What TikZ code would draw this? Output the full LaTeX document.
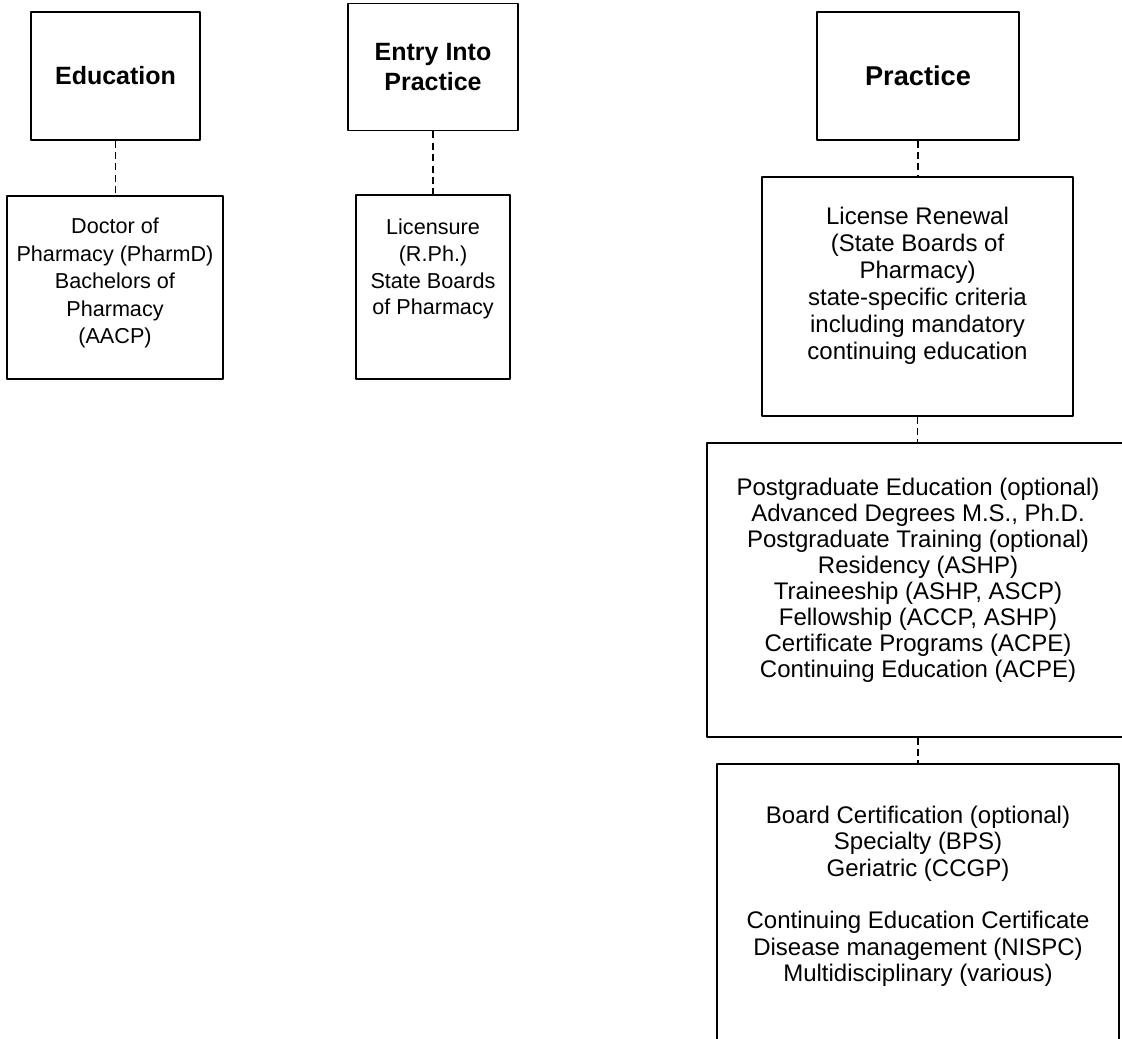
\documentclass[tikz,border=0pt]{standalone}
\usepackage{fontspec}
\setmainfont{Liberation Sans}
\usetikzlibrary{positioning}
\begin{document}
\begin{tikzpicture}[x=0.5pt, y=-0.5pt, line join=round,
	box/.style={draw, line width=0.6pt, inner sep=0pt},
	head/.style={font=\fontsize{#1}{15}\selectfont\bfseries, align=center},
	txt/.style 2 args={font=\fontsize{#1}{#2}\selectfont, align=center, inner sep=0pt},
	link/.style={line width=0.6pt, dash pattern=on 3.5pt off 2.2pt}]
	\useasboundingbox (0,0) rectangle (1122,1038);
	\clip (0,0) rectangle (1122,1038);
	% column heads
	\node[box, head=12.5, minimum width=84.5pt, minimum height=64pt] (edu) at (115.5,76) {Education};
	\node[box, head=12.5, minimum width=85pt, minimum height=63.75pt] (entry) at (433,67) {Entry Into\\Practice};
	\node[box, head=13.6, minimum width=101pt, minimum height=64pt] (prac) at (918,76) {Practice};
	% boxes below
	\node[box, minimum width=108pt, minimum height=91.5pt] (doc) at (115,287.5) {};
	\node[box, minimum width=77pt, minimum height=92pt] (lic) at (433,287) {};
	\node[box, minimum width=155.5pt, minimum height=119.5pt] (renew) at (917.5,296.5) {};
	\node[box, minimum width=211pt, minimum height=147pt] (post) at (918,590) {};
	\node[box, minimum width=201pt, minimum height=153pt] (board) at (918,917) {};
	\node[txt={10.8}{13.7}, below=11.2pt of doc.north] (doctxt) {Doctor of\\Pharmacy (PharmD)\\Bachelors of\\Pharmacy\\(AACP)};
	\node[txt={10.8}{13.3}, below=12.2pt of lic.north] (lictxt) {Licensure\\(R.Ph.)\\State Boards\\of Pharmacy};
	\node[txt={12}{13.5}, below=15pt of renew.north] (renewtxt) {License Renewal\\(State Boards of\\Pharmacy)\\state-specific criteria\\including mandatory\\continuing education};
	\node[txt={12}{13}, below=17.5pt of post.north] (posttxt) {Postgraduate Education (optional)\\Advanced Degrees M.S., Ph.D.\\Postgraduate Training (optional)\\Residency (ASHP)\\Traineeship (ASHP, ASCP)\\Fellowship (ACCP, ASHP)\\Certificate Programs (ACPE)\\Continuing Education (ACPE)};
	\node[txt={12}{13.2}, below=21pt of board.north] (boardtxt) {Board Certification (optional)\\Specialty (BPS)\\Geriatric (CCGP)\\[13.2pt]Continuing Education Certificate\\Disease management (NISPC)\\Multidisciplinary (various)};
	% dashed links
	\draw[link] (edu.south) -- (edu.south |- doc.north);
	\draw[link] (entry.south) -- (entry.south |- lic.north);
	\draw[link] (prac.south) -- (prac.south |- renew.north);
	\draw[link] (renew.south) -- (renew.south |- post.north);
	\draw[link] (post.south) -- (post.south |- board.north);
\end{tikzpicture}
\end{document}
